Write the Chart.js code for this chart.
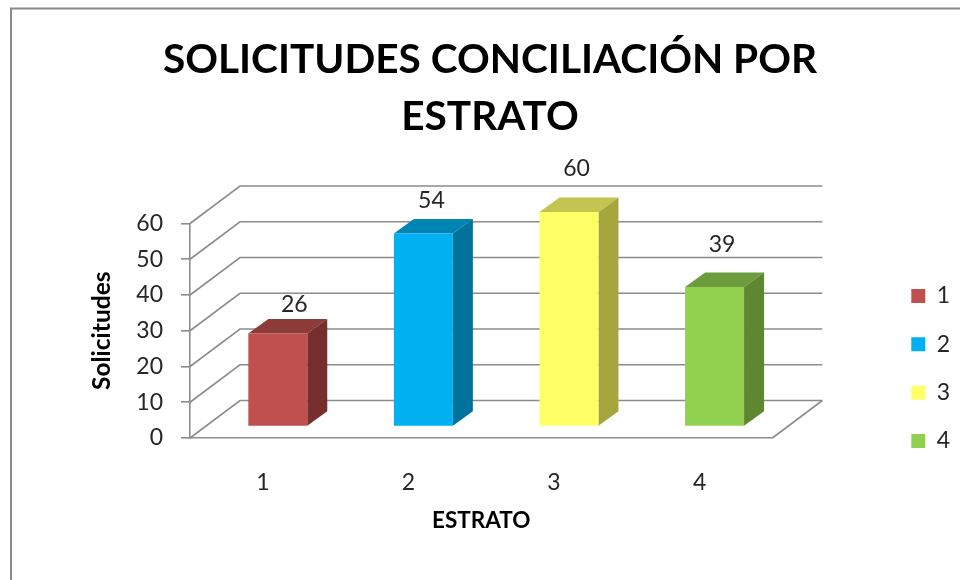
<!DOCTYPE html>
<html><head><meta charset="utf-8">
<style>html,body{margin:0;padding:0;background:#fff;overflow:hidden}#wrap{width:960px;height:580px}</style>
<script src="https://cdn.jsdelivr.net/npm/chart.js@4/dist/chart.umd.min.js"></script>
</head><body><div id="wrap"><canvas id="c" width="960" height="580"></canvas></div>
<script>
const categories = ['1','2','3','4'];
const values = [26,54,60,39];
const yTicks = [0,10,20,30,40,50,60];
const frontColors = ['#C0504D','#00B0F0','#FFFF66','#92D050'];
const topColors = ['#8C3B38','#0084B4','#C4C450','#6D9C3C'];
const sideColors = ['#772F2D','#00729B','#A6A63F','#5F8731'];
const titleLines = ['SOLICITUDES CONCILIACIÓN POR','ESTRATO'];
const FONT='Lato, "Open Sans", sans-serif';
const GRID='#8c8c8c', TXT='#262626';
const WALL={dx:50,dy:-37.5}, SHIFT={dx:15,dy:-11.5}, BAR={dx:20,dy:-14.5};
const labelNudge=[{x:16.5,y:29},{x:8,y:33},{x:7.5,y:43.5},{x:7.5,y:42}];

const threeD={id:'threeD',
 afterLayout(chart){
  const l=chart.legend; const h=l.bottom-l.top, w=l.right-l.left;
  l.left=886; l.right=886+w;
  l.top=368.5-h/2; l.bottom=l.top+h;
  chart.titleBlock.left=20; chart.titleBlock.right=960;
 },
 beforeDraw(chart){
  const c=chart.ctx; c.save(); c.strokeStyle='#8a8a8a'; c.lineWidth=2;
  c.beginPath(); c.moveTo(11,580); c.lineTo(11,8.5); c.lineTo(960,8.5); c.stroke(); c.restore();
 },
 beforeDatasetsDraw(chart){
  const c=chart.ctx,{left,right}=chart.chartArea,y=chart.scales.y;
  c.save(); c.strokeStyle=GRID; c.lineWidth=1.6;
  y.ticks.forEach(t=>{const p=y.getPixelForValue(t.value);
    c.beginPath(); c.moveTo(left,p); c.lineTo(left+WALL.dx,p+WALL.dy); c.lineTo(right+WALL.dx,p+WALL.dy); c.stroke();});
  const b=y.getPixelForValue(0);
  c.beginPath(); c.moveTo(right,b); c.lineTo(right+WALL.dx,b+WALL.dy); c.stroke();
  c.restore();
  c.save(); c.translate(SHIFT.dx,SHIFT.dy);
  chart.getDatasetMeta(0).data.forEach((el,i)=>{
    const {x,y:ty,base,width}=el.getProps(['x','y','base','width'],true);
    const l=x-width/2,r=x+width/2;
    c.fillStyle=topColors[i]; c.beginPath(); c.moveTo(l,ty); c.lineTo(l+BAR.dx,ty+BAR.dy); c.lineTo(r+BAR.dx,ty+BAR.dy); c.lineTo(r,ty); c.closePath(); c.fill();
    c.fillStyle=sideColors[i]; c.beginPath(); c.moveTo(r,ty); c.lineTo(r+BAR.dx,ty+BAR.dy); c.lineTo(r+BAR.dx,base+BAR.dy); c.lineTo(r,base); c.closePath(); c.fill();
  });
 },
 afterDatasetsDraw(chart){
  const c=chart.ctx; c.restore();
  c.save(); c.font='23px '+FONT; c.fillStyle=TXT; c.textAlign='center'; c.textBaseline='middle';
  chart.getDatasetMeta(0).data.forEach((el,i)=>{
    const l=el.getProps(['x','y'],true);
    c.fillText(String(values[i]), l.x+SHIFT.dx+labelNudge[i].x, l.y+SHIFT.dy-labelNudge[i].y);
  });
  c.restore();
 }
};

new Chart(document.getElementById('c'),{
 type:'bar',
 data:{labels:categories,datasets:[{data:values,backgroundColor:frontColors,borderWidth:0,categoryPercentage:1,barPercentage:0.405,clip:false}]},
 plugins:[threeD],
 options:{
  responsive:false,animation:false,
  layout:{padding:{left:20,right:113.5,top:0,bottom:0}},
  plugins:{
   tooltip:{enabled:false},
   title:{display:true,text:titleLines,color:'#000',font:{family:FONT,size:40.6,weight:'bold',lineHeight:'57px'},padding:{top:31.5,bottom:78}},
   legend:{position:'right',labels:{boxWidth:14,boxHeight:14,padding:25.3,color:TXT,font:{family:FONT,size:23},
     generateLabels:()=>categories.map((t,i)=>({text:t,fillStyle:frontColors[i],strokeStyle:frontColors[i],lineWidth:0,index:i,fontColor:TXT}))}}
  },
  scales:{
   x:{afterFit(s){s.height=142},grid:{display:false,drawTicks:false},border:{display:true,color:GRID,width:1.6},
      ticks:{color:TXT,font:{family:FONT,size:23},padding:31},
      title:{display:true,text:'ESTRATO',color:'#000',font:{family:FONT,size:22.5,weight:'bold'},padding:{top:0,bottom:46}}},
   y:{min:0,max:60,afterFit(s){s.width=170},afterBuildTicks(s){s.ticks=yTicks.map(v=>({value:v}))},
      grid:{drawOnChartArea:false,drawTicks:true,tickLength:9,color:GRID,lineWidth:1.6},border:{display:true,color:GRID,width:1.6},
      ticks:{color:TXT,font:{family:FONT,size:23},padding:18},
      title:{display:true,text:'Solicitudes',color:'#000',font:{family:FONT,size:24.5,weight:'bold'},padding:{top:67,bottom:0}}}
  }
 }
});
</script></body></html>
